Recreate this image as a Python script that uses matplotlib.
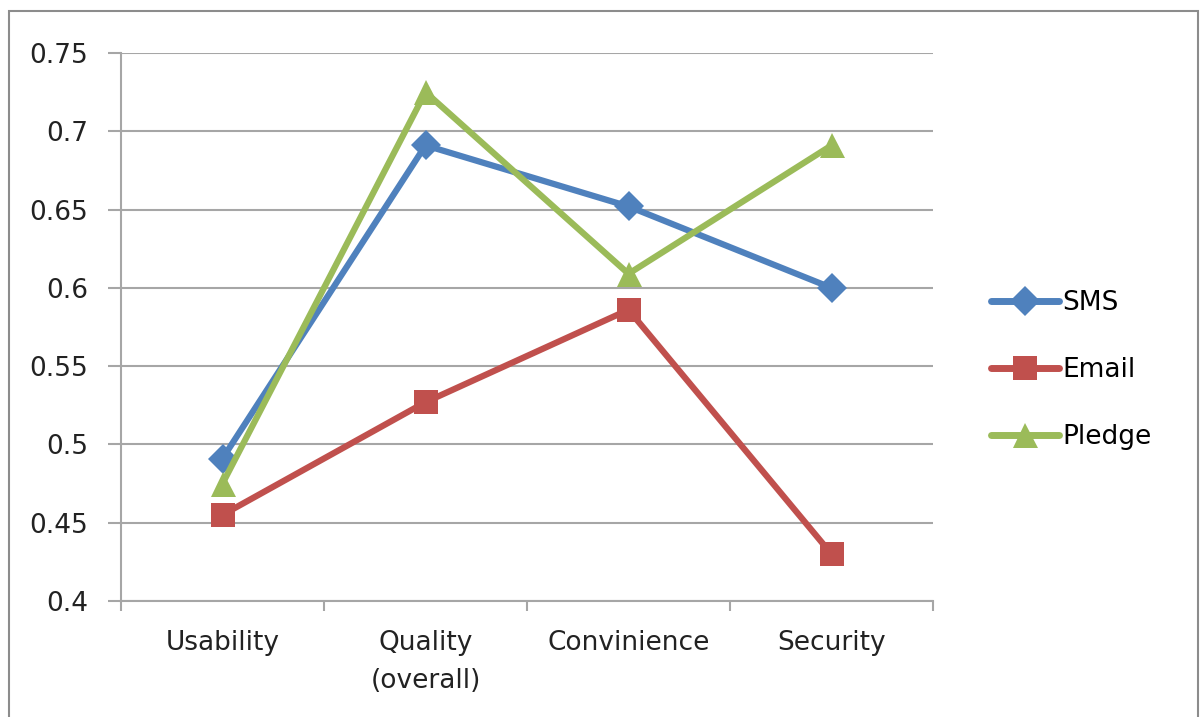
import matplotlib.pyplot as plt
from matplotlib.patches import Rectangle

categories = ["Usability", "Quality\n(overall)", "Convinience", "Security"]
sms = [0.491, 0.691, 0.652, 0.600]
email = [0.455, 0.527, 0.586, 0.430]
pledge = [0.475, 0.725, 0.609, 0.691]

series = [
    ("SMS", sms, "#4F81BD", "D", 15),
    ("Email", email, "#C0504D", "s", 17),
    ("Pledge", pledge, "#9BBB59", "^", 18),
]

plt.rcParams["font.family"] = ["DejaVu Sans"]

fig = plt.figure(figsize=(12.02, 7.17), dpi=100)
ax = fig.add_axes([121 / 1202, 116 / 717, 812 / 1202, 548 / 717])

# chart frame, open at the bottom edge
fig.patches.append(Rectangle((9 / 1202, -0.05), 1189 / 1202, 1.05 - 11 / 717,
                             transform=fig.transFigure, fill=False,
                             edgecolor="#8c8c8c", linewidth=1.5))

xs = [i + 0.5 for i in range(len(categories))]
for name, vals, color, marker, ms in series:
    ax.plot(xs, vals, color=color, linewidth=4.5, marker=marker,
            markersize=ms, markeredgewidth=0, label=name,
            solid_joinstyle="miter", zorder=3)

ax.set_xlim(0, len(categories))
ax.set_ylim(0.4, 0.75)
ax.set_yticks([0.4, 0.45, 0.5, 0.55, 0.6, 0.65, 0.7, 0.75])
ax.set_yticklabels(["0.4", "0.45", "0.5", "0.55", "0.6", "0.65", "0.7", "0.75"])
ax.set_xticks(range(len(categories) + 1))
ax.set_xticklabels([])
ax.set_xticks(xs, minor=True)
ax.set_xticklabels(categories, minor=True, linespacing=1.6)

ax.grid(axis="y", color="#a6a6a6", linewidth=1.5)
ax.set_axisbelow(True)
for side in ["top", "right"]:
    ax.spines[side].set_visible(False)
for side in ["left", "bottom"]:
    ax.spines[side].set_color("#a6a6a6")
    ax.spines[side].set_linewidth(1.5)

ax.tick_params(axis="y", which="major", length=9.5, width=1.5, color="#a6a6a6",
               labelsize=19, pad=14, labelcolor="#222222")
ax.tick_params(axis="x", which="major", direction="out", length=7.5, width=1.5,
               color="#a6a6a6")
ax.tick_params(axis="x", which="minor", length=0, labelsize=19, pad=21,
               labelcolor="#222222")

leg = ax.legend(loc="center left", bbox_to_anchor=(1.058, 0.4215), frameon=False,
                fontsize=19, handlelength=2.6, handletextpad=0.1,
                labelspacing=1.55, borderaxespad=0)
for line in leg.get_lines():
    line.set_linewidth(5)
    line.set_solid_capstyle("round")

fig.savefig("out.png", dpi=100)
